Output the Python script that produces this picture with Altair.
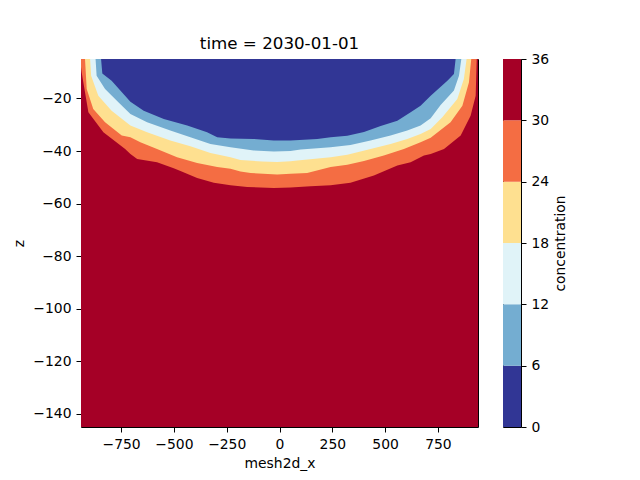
import altair as alt
import pandas as pd

# ---- domain of the section -------------------------------------------------
X_MIN, X_MAX = -940, 940
Z_BOTTOM, Z_TOP = -145, -5

# ---- colour levels -----------------------------------------------------------
LEVELS = [0, 6, 12, 18, 24, 30, 36]
BAND_NAMES = ["0-6", "6-12", "12-18", "18-24", "24-30", "30-36"]
BAND_COLORS = ["#313695", "#74add1", "#e0f3f8", "#fee090", "#f46d43", "#a50026"]

X_TICKS = [-750, -500, -250, 0, 250, 500, 750]
Z_TICKS = [-140, -120, -100, -80, -60, -40, -20]

# ---- contour lines (depth z of each concentration level along x) ------------
c6_x = [-845, -839, -795, -706, -643, -548, -437, -343, -295, -232, -122, -27,
        52, 179, 242, 321, 400, 479, 558, 621, 668, 716, 795, 826, 834]
c6_z = [-5, -10.5, -13.3, -21.3, -24.7, -27.8, -30.3, -32.9, -34.8, -35.2, -35.4, -36.0,
        -36.0, -35.4, -34.8, -34.2, -32.8, -30.5, -28.5, -25.3, -22.8, -19.0, -13.3, -10.7, -5]

c12_x = [-871, -866, -826, -763, -706, -627, -517, -422, -327, -232, -122, -27,
         52, 100, 242, 336, 431, 526, 605, 668, 716, 763, 826, 850, 861]
c12_z = [-5, -11.4, -16.4, -21.5, -25.9, -29.1, -32.2, -34.8, -37.3, -38.6, -39.8, -40.2,
         -40.0, -39.4, -38.6, -37.7, -36.0, -34.1, -32.2, -30.3, -27.5, -22.5, -17.0, -11.4, -5]

c18_x = [-897, -892, -858, -795, -706, -627, -517, -422, -327, -232, -185, -82, -11,
         52, 84, 242, 321, 431, 526, 605, 668, 716, 771, 842, 873, 886]
c18_z = [-5, -11.4, -19.0, -24.7, -30.3, -32.9, -36.0, -38.2, -40.8, -42.4, -43.4, -44.0, -44.2,
         -43.9, -43.6, -42.4, -41.4, -39.2, -37.3, -35.4, -33.5, -31.6, -27.2, -20.2, -12.6, -5]

c24_x = [-921, -913, -882, -826, -747, -706, -659, -580, -485, -390, -295, -232, -185,
         -137, -11, 52, 131, 242, 321, 400, 494, 589, 668, 716, 810, 866, 897, 908]
c24_z = [-5, -16.4, -24.0, -29.1, -34.1, -34.8, -36.7, -39.2, -42.4, -44.6, -46.1, -46.8, -47.8,
         -48.4, -48.9, -48.7, -48.4, -46.1, -45.2, -43.8, -41.7, -39.2, -36.7, -35.0, -29.1, -22.8, -13.9, -5]

c30_x = [-940, -937, -905, -834, -731, -706, -674, -580, -501, -469, -390, -311, -232,
         -153, -27, 52, 147, 242, 336, 447, 558, 621, 684, 716, 779, 858, 905, 929, 934]
c30_z = [-8, -10.0, -25.3, -32.9, -39.2, -41.1, -43.0, -44.3, -46.6, -47.6, -50.3, -52.1, -53.0,
         -53.7, -54.1, -53.9, -53.4, -53.0, -52.1, -49.3, -45.5, -44.3, -41.7, -41.1, -39.2, -34.1, -26.6, -19.0, -5]

FONT = "DejaVu Sans"

color_enc = alt.Color("band:N", scale=alt.Scale(domain=BAND_NAMES, range=BAND_COLORS), legend=None)

x_scale = alt.Scale(domain=[X_MIN, X_MAX], nice=False, zero=False)
z_scale = alt.Scale(domain=[Z_BOTTOM, Z_TOP], nice=False, zero=False)
x_axis = alt.Axis(values=X_TICKS, title="mesh2d_x", titlePadding=6)
z_axis = alt.Axis(values=Z_TICKS, title="z", titlePadding=6)

# base: the whole section above the highest level
base_df = pd.DataFrame({"x": [X_MIN], "x2": [X_MAX], "z": [Z_BOTTOM], "z2": [Z_TOP],
                        "band": [BAND_NAMES[5]]})
base = alt.Chart(base_df).mark_rect().encode(
    x=alt.X("x:Q", scale=x_scale, axis=x_axis),
    x2="x2:Q",
    y=alt.Y("z:Q", scale=z_scale, axis=z_axis),
    y2="z2:Q",
    color=color_enc,
)

layers = [base]
for xs, zs, band in [(c30_x, c30_z, 4), (c24_x, c24_z, 3), (c18_x, c18_z, 2),
                     (c12_x, c12_z, 1), (c6_x, c6_z, 0)]:
    df = pd.DataFrame({"x": xs, "z": zs})
    df["top"] = Z_TOP
    df["band"] = BAND_NAMES[band]
    layers.append(
        alt.Chart(df).mark_area(interpolate="linear", clip=True).encode(
            x=alt.X("x:Q", scale=x_scale, axis=x_axis),
            y=alt.Y("z:Q", scale=z_scale, axis=z_axis),
            y2="top:Q",
            color=color_enc,
        )
    )

main = alt.layer(*layers).properties(
    width=397, height=368,
    title=alt.TitleParams("time = 2030-01-01", font=FONT, fontSize=16.7, fontWeight="normal",
                          color="black", frame="group", anchor="middle",
                          baseline="alphabetic", offset=-7),
)

cb_df = pd.DataFrame({"lo": LEVELS[:-1], "hi": LEVELS[1:], "band": BAND_NAMES})
colorbar = alt.Chart(cb_df).mark_rect().encode(
    y=alt.Y("lo:Q", scale=alt.Scale(domain=[LEVELS[0], LEVELS[-1]], nice=False, zero=False),
            axis=alt.Axis(orient="right", values=LEVELS, title="concentration",
                          titleAngle=270, titleBaseline="top", titlePadding=5)),
    y2="hi:Q",
    color=color_enc,
).properties(width=18, height=368)

chart = alt.hconcat(main, colorbar, spacing=25, bounds="flush").properties(
    padding={"left": 12, "top": 35, "right": 5, "bottom": 5}
).configure_view(
    stroke="black", strokeWidth=1
).configure_axis(
    domain=False, grid=False,
    ticks=True, tickColor="black", tickSize=5, tickWidth=1,
    labelFont=FONT, labelFontSize=13.9, labelColor="black", labelPadding=5,
    titleFont=FONT, titleFontSize=13.9, titleFontWeight="normal", titleColor="black",
).configure_title(font=FONT)

chart.save("out.html", embed_options={"renderer": "svg", "actions": False})
